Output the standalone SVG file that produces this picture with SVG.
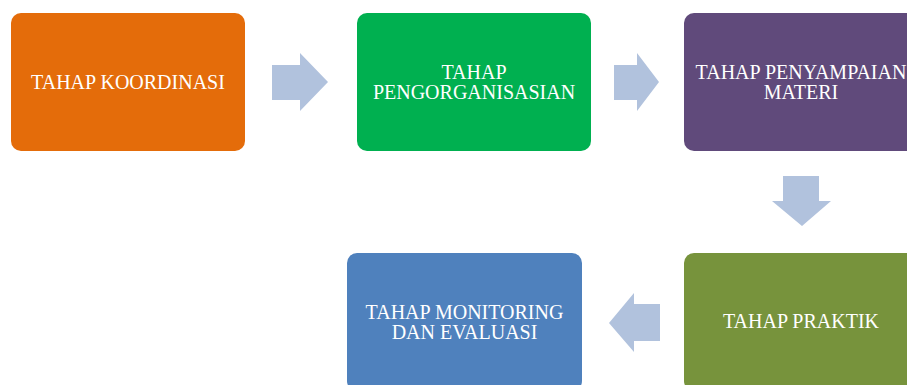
<svg xmlns="http://www.w3.org/2000/svg" width="907" height="385" viewBox="0 0 907 385">
<style>
.box{stroke:none}
.lbl{font-family:"Liberation Serif","Times New Roman",serif;font-size:20px;fill:#ffffff;text-anchor:middle}
.arr{fill:#B1C2DD;stroke:none}
</style>
<rect width="907" height="385" fill="#ffffff"/>
<g id="n1"><rect class="box" x="11" y="13" width="234" height="138" rx="10" fill="#E46C0A"/><text class="lbl" x="128" y="89">TAHAP KOORDINASI</text></g>
<g id="n2"><rect class="box" x="357" y="13" width="234" height="138" rx="10" fill="#00B050"/><text class="lbl" x="474" y="79">TAHAP</text><text class="lbl" x="474" y="99">PENGORGANISASIAN</text></g>
<g id="n3"><rect class="box" x="684" y="13" width="235" height="138" rx="10" fill="#604A7B"/><text class="lbl" x="801" y="79">TAHAP PENYAMPAIAN</text><text class="lbl" x="801" y="99">MATERI</text></g>
<g id="n4"><rect class="box" x="684" y="253" width="235" height="138" rx="10" fill="#77933C"/><text class="lbl" x="801" y="328">TAHAP PRAKTIK</text></g>
<g id="n5"><rect class="box" x="347" y="253" width="235" height="138" rx="10" fill="#4F81BD"/><text class="lbl" x="464.5" y="319">TAHAP MONITORING</text><text class="lbl" x="464.5" y="339">DAN EVALUASI</text></g>
<g id="connectors">
<polygon class="arr" points="272,65 300,65 300,53 328,82 300,111 300,100 272,100"/>
<polygon class="arr" points="614,65 637,65 637,53 659,82 637,111 637,100 614,100"/>
<polygon class="arr" points="783,176 819,176 819,201 831,201 802,226 772,201 783,201"/>
<polygon class="arr" points="660,304 634,304 634,293 609,323 634,352 634,341 660,341"/>
</g>
</svg>
